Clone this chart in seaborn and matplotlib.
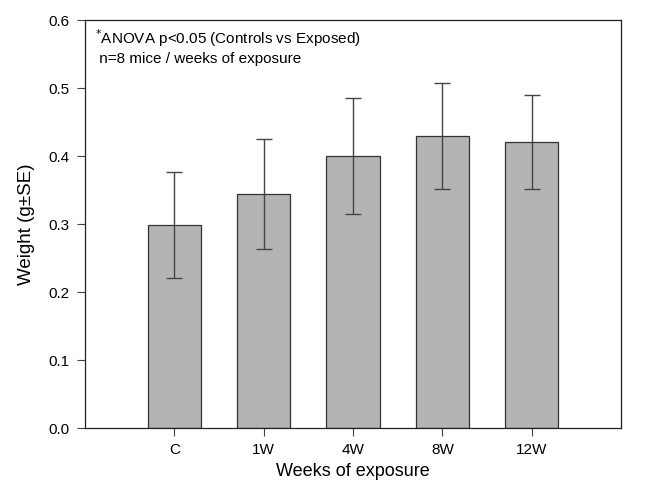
import matplotlib
matplotlib.use("Agg")
import matplotlib.pyplot as plt
import seaborn as sns
import pandas as pd

categories = ["C", "1W", "4W", "8W", "12W"]
weights = [0.298, 0.344, 0.400, 0.430, 0.420]
se = [0.078, 0.081, 0.086, 0.078, 0.069]
yticks = [0.0, 0.1, 0.2, 0.3, 0.4, 0.5, 0.6]

sns.set_style("white")
plt.rcParams['font.family'] = ['Liberation Sans', 'DejaVu Sans']
plt.rcParams['text.color'] = 'black'
plt.rcParams['axes.labelcolor'] = 'black'
plt.rcParams['xtick.color'] = '#444444'
plt.rcParams['ytick.color'] = '#444444'
plt.rcParams['xtick.labelcolor'] = 'black'
plt.rcParams['ytick.labelcolor'] = 'black'

df = pd.DataFrame({"group": categories, "weight": weights, "se": se})

fig = plt.figure(figsize=(6.53, 4.84), dpi=100)
ax = fig.add_axes([85/653, 1 - 428/484, (621-85)/653, (428-20)/484])

sns.barplot(data=df, x="group", y="weight", order=categories, color="#b4b4b4",
            saturation=1, width=0.6, edgecolor="#333333", linewidth=0.9,
            errorbar=None, ax=ax)
ax.errorbar(range(len(categories)), df["weight"], yerr=df["se"], fmt="none",
            ecolor="#444444", elinewidth=1.0, capsize=6, capthick=1.0, zorder=5)

ax.set_xlim(-1, 5)
ax.set_ylim(0, 0.6)
ax.set_yticks(yticks)
ax.set_yticklabels([f"{t:.1f}" for t in yticks])
ax.tick_params(axis="both", which="both", direction="out", length=6, width=0.8,
               labelsize=11, pad=5, left=True, bottom=True)
for s in ax.spines.values():
    s.set_color("#222222")
    s.set_linewidth(0.9)
ax.set_xlabel("Weeks of exposure", fontsize=13, labelpad=4)
ax.set_ylabel("Weight (g±SE)", fontsize=13.5, labelpad=10)

ax.text(0.019, 0.941, r"$^{*}$ANOVA p<0.05 (Controls vs Exposed)", transform=ax.transAxes,
        fontsize=11, va="baseline", ha="left")
ax.text(0.019, 0.895, " n=8 mice / weeks of exposure", transform=ax.transAxes,
        fontsize=11, va="baseline", ha="left")

fig.savefig("out.png", dpi=100)
